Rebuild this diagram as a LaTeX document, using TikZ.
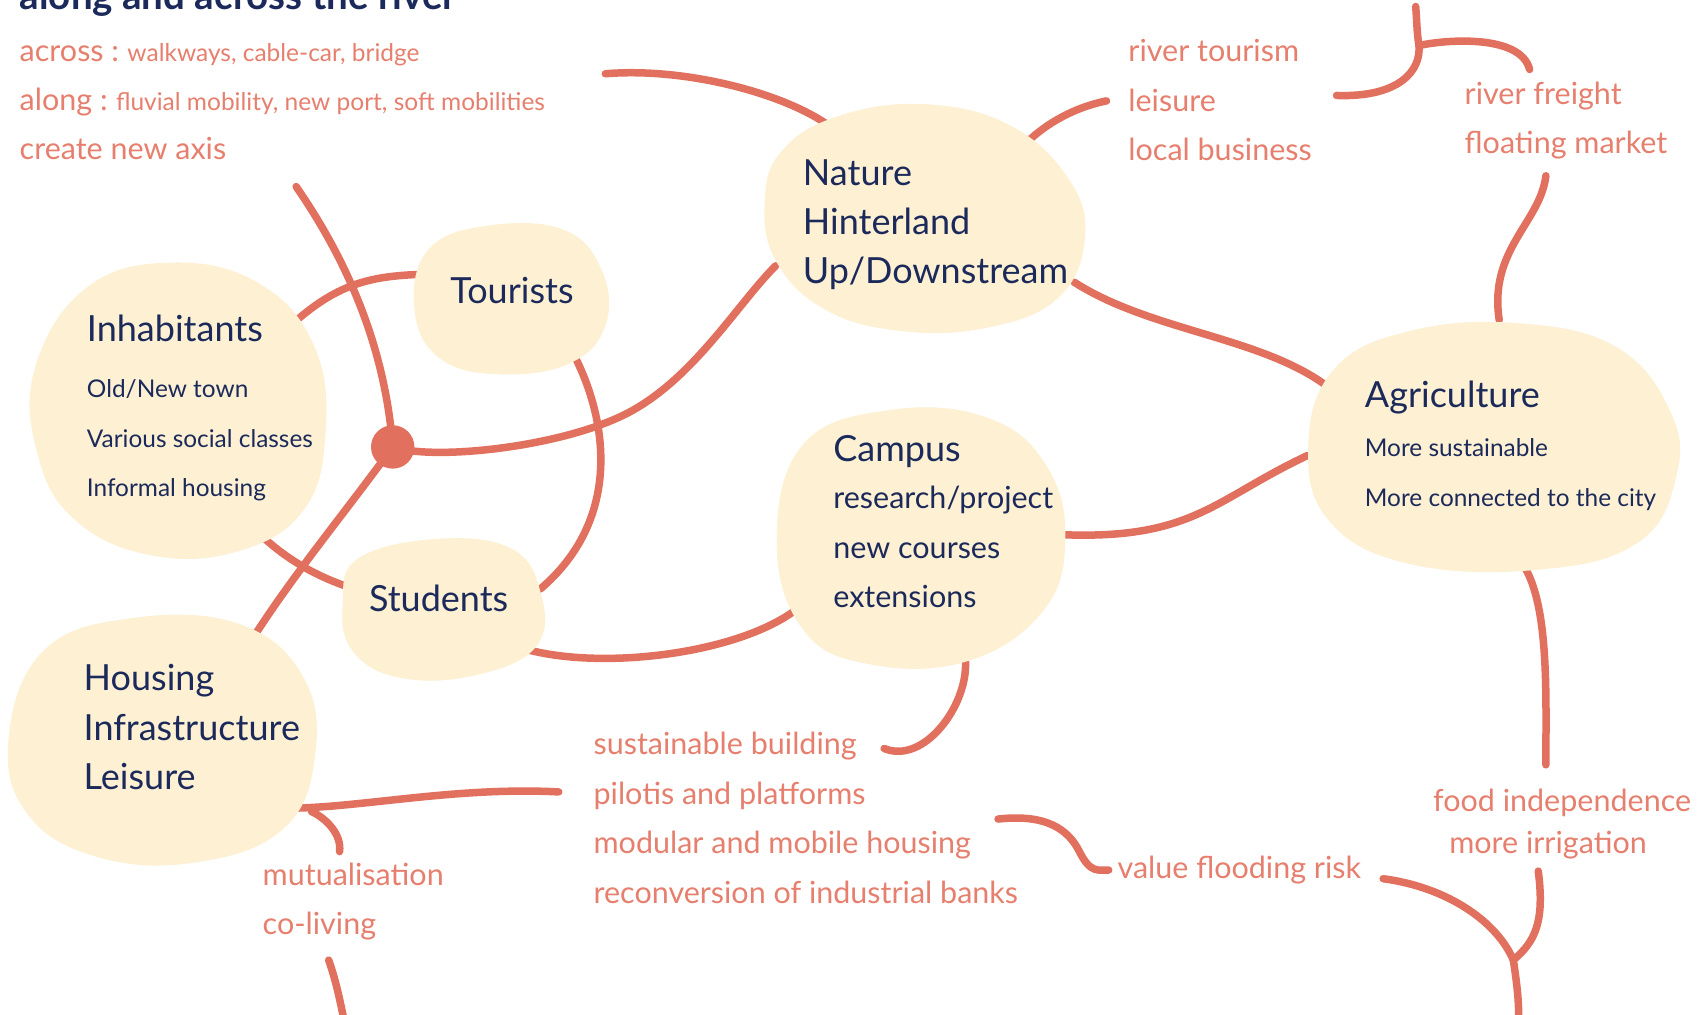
\documentclass[tikz,border=0pt]{standalone}
\usepackage{fontspec}
\setmainfont{Lato}
\definecolor{cream}{HTML}{FDF0D3}
\definecolor{redl}{HTML}{E2705E}
\definecolor{redt}{HTML}{E67F6E}
\definecolor{navy}{HTML}{1B2A5A}
\tikzset{
  blob/.style={fill=cream, draw=none},
  link/.style={draw=redl, line width=7.5pt, line cap=round, line join=round},
  txt/.style={anchor=mid west, inner sep=0pt, yshift=-8pt},
  rlab/.style={txt, text=redt, font=\fontsize{30.5}{33}\selectfont},
  rsmall/.style={txt, text=redt, font=\fontsize{24.5}{27}\selectfont},
  nbig/.style={txt, text=navy, font=\fontsize{36}{40}\selectfont},
  nmid/.style={txt, text=navy, font=\fontsize{30.5}{33}\selectfont},
  nsmall/.style={txt, text=navy, font=\fontsize{24.4}{27}\selectfont},
}
\begin{document}
\begin{tikzpicture}[x=1.0848pt,y=-1.0848pt]
\useasboundingbox (0,0) rectangle (1568,935);
\fill[white] (0,0) rectangle (1568,935);

% title (cut off at top, as in the source)
\node[text=navy, font=\bfseries\fontsize{38.5}{40}\selectfont, anchor=base west, inner sep=0pt] (title) at (18,9) {along and across the river};

% ---------- connector end points ----------
\coordinate (axisEnd) at (558,68);
\coordinate (natTL) at (763,115);
\coordinate (natTR) at (950,128);
\coordinate (leisEnd) at (1020,93);
\coordinate (trLeft) at (1232,88);
\coordinate (trFork) at (1308,42);
\coordinate (trTop) at (1305,6);
\coordinate (trRight) at (1410,64);
\coordinate (fmEnd) at (1425,162);
\coordinate (agTop) at (1382,295);
\coordinate (natBR) at (990,260);
\coordinate (agL1) at (1222,355);
\coordinate (agL2) at (1205,420);
\coordinate (campR) at (982,493);
\coordinate (agBot) at (1405,522);
\coordinate (foodTop) at (1425,705);
\coordinate (vfrEnd) at (1275,810);
\coordinate (irrEnd) at (1418,803);
\coordinate (brFork) at (1395,885);
\coordinate (brBot) at (1400,940);
\coordinate (campB) at (890,610);
\coordinate (sbEnd) at (815,690);
\coordinate (mmhEnd) at (920,755);
\coordinate (vfrStart) at (1022,802);
\coordinate (housR) at (265,745);
\coordinate (ppEnd) at (515,730);
\coordinate (housFork) at (287,748);
\coordinate (mutEnd) at (313,785);
\coordinate (colEnd) at (303,885);
\coordinate (colBot) at (317,940);
\coordinate (campL) at (745,552);
\coordinate (studR) at (483,598);
\coordinate (studTR) at (498,543);
\coordinate (tourB) at (528,325);
\coordinate (hubTop) at (273,172);
\coordinate (natL) at (715,245);
\coordinate (housT) at (232,590);
\coordinate (inhTR) at (268,300);
\coordinate (tourL) at (385,253);
\coordinate (inhB) at (235,488);
\coordinate (studL) at (318,540);

% ---------- connectors ----------
\draw[link] (axisEnd) .. controls (630,62) and (720,85) .. (natTL);
\draw[link] (natTR) .. controls (970,110) and (995,98) .. (leisEnd);
\draw[link] (trLeft) .. controls (1290,90) and (1310,65) .. (trFork);
\draw[link] (trFork) .. controls (1306,30) and (1306,18) .. (trTop);
\draw[link] (trFork) .. controls (1335,36) and (1402,32) .. (trRight);
\draw[link] (fmEnd) .. controls (1420,205) and (1372,230) .. (agTop);
\draw[link] (natBR) .. controls (1060,305) and (1160,310) .. (agL1);
\draw[link] (agL2) .. controls (1120,460) and (1100,497) .. (campR);
\draw[link] (agBot) .. controls (1428,560) and (1425,640) .. (foodTop);
\draw[link] (vfrEnd) .. controls (1335,818) and (1380,850) .. (brFork);
\draw[link] (irrEnd) .. controls (1424,850) and (1415,868) .. (brFork);
\draw[link] (brFork) .. controls (1398,905) and (1400,920) .. (brBot);
\draw[link] (campB) .. controls (892,650) and (852,705) .. (sbEnd);
\draw[link] (mmhEnd) .. controls (965,750) and (985,765) .. (995,785) .. controls (1005,805) and (1012,802) .. (vfrStart);
\draw[link] (housR) .. controls (330,745) and (420,725) .. (ppEnd);
\draw[link] (housFork) .. controls (302,755) and (315,770) .. (mutEnd);
\draw[link] (colEnd) .. controls (310,905) and (314,925) .. (colBot);
\draw[link] (campL) .. controls (700,600) and (560,620) .. (studR);
\draw[link] (studTR) .. controls (572,480) and (562,390) .. (tourB);
\draw[link] (hubTop) .. controls (320,240) and (355,320) .. (362,412);
\draw[link] (362,412) .. controls (400,425) and (520,412) .. (580,380) .. controls (640,348) and (680,280) .. (natL);
\draw[link] (362,412) .. controls (320,470) and (270,530) .. (housT);
\draw[link] (inhTR) .. controls (310,262) and (340,255) .. (tourL);
\draw[link] (inhB) .. controls (262,515) and (290,530) .. (studL);

% ---------- blobs ----------
\fill[blob] plot[smooth cycle, tension=0.7] coordinates {(720,140) (770,108) (850,96) (930,115) (985,165) (1000,220) (975,275) (910,302) (830,305) (760,285) (715,240) (705,185)};
\fill[blob] plot[smooth cycle, tension=0.7] coordinates {(395,230) (450,208) (520,212) (555,250) (558,300) (525,335) (460,345) (405,330) (382,285)};
\fill[blob] plot[smooth cycle, tension=0.7] coordinates {(80,265) (160,242) (240,262) (290,320) (300,400) (280,470) (220,508) (140,512) (70,480) (35,420) (32,340)};
\fill[blob] plot[smooth cycle, tension=0.7] coordinates {(330,515) (400,497) (470,505) (498,545) (495,595) (440,622) (370,625) (325,600) (316,555)};
\fill[blob] plot[smooth cycle, tension=0.7] coordinates {(40,600) (120,570) (220,575) (280,625) (290,700) (260,765) (180,795) (90,790) (25,750) (8,680)};
\fill[blob] plot[smooth cycle, tension=0.7] coordinates {(740,410) (820,378) (910,385) (965,430) (982,500) (960,565) (890,610) (800,612) (740,580) (716,500)};
\fill[blob] plot[smooth cycle, tension=0.7] coordinates {(1230,340) (1300,305) (1400,298) (1490,320) (1540,380) (1545,440) (1510,500) (1420,525) (1300,520) (1225,480) (1206,410)};

% hub
\fill[redl] (362,412) circle (20);
\node[inner sep=0pt, minimum size=0pt] (hub) at (362,412) {};

% ---------- red labels ----------
\node[rlab] (across) at (18,47) {across :};
\node[rsmall, anchor=base west, yshift=8pt] (acrossT) at ([xshift=8pt]across.base east) {walkways, cable-car, bridge};
\node[rlab] (along) at (18,92) {along :};
\node[rsmall, anchor=base west, yshift=8pt] (alongT) at ([xshift=8pt]along.base east) {fluvial mobility, new port, soft mobilities};
\node[rlab] (axis) at (18,137) {create new axis};

\node[rlab] (rtour) at (1040,47) {river tourism};
\node[rlab] (leis) at (1040,93) {leisure};
\node[rlab] (lbus) at (1040,138) {local business};
\node[rlab] (rfre) at (1350,87) {river freight};
\node[rlab] (fmark) at (1350,132) {floating market};

\node[rlab] (sb) at (547,686) {sustainable building};
\node[rlab] (pp) at (547,732) {pilotis and platforms};
\node[rlab] (mmh) at (547,777) {modular and mobile housing};
\node[rlab] (rib) at (547,823) {reconversion of industrial banks};
\node[rlab] (vfr) at (1030,800) {value flooding risk};
\node[rlab, anchor=mid] (food) at (1440,738) {food independence};
\node[rlab, anchor=mid] (irr) at (1427,777) {more irrigation};
\node[rlab] (mut) at (242,807) {mutualisation};
\node[rlab] (col) at (242,852) {co-living};

% ---------- navy texts ----------
\node[nbig] (nat1) at (740,161) {Nature};
\node[nbig] (nat2) at (740,206) {Hinterland};
\node[nbig] (nat3) at (740,252) {Up/Downstream};
\node[nbig] (tour) at (415,270) {Tourists};
\node[nbig] (inh) at (80,305) {Inhabitants};
\node[nsmall] (inh1) at (80,357) {Old/New town};
\node[nsmall] (inh2) at (80,403) {Various social classes};
\node[nsmall] (inh3) at (80,448) {Informal housing};
\node[nbig] (agr) at (1258,366) {Agriculture};
\node[nsmall] (agr1) at (1258,411) {More sustainable};
\node[nsmall] (agr2) at (1258,457) {More connected to the city};
\node[nbig] (camp) at (768,416) {Campus};
\node[nmid] (camp1) at (768,459) {research/project};
\node[nmid] (camp2) at (768,505) {new courses};
\node[nmid] (camp3) at (768,550) {extensions};
\node[nbig] (stud) at (340,554) {Students};
\node[nbig] (hous1) at (77,627) {Housing};
\node[nbig] (hous2) at (77,673) {Infrastructure};
\node[nbig] (hous3) at (77,718) {Leisure};
\end{tikzpicture}
\end{document}
